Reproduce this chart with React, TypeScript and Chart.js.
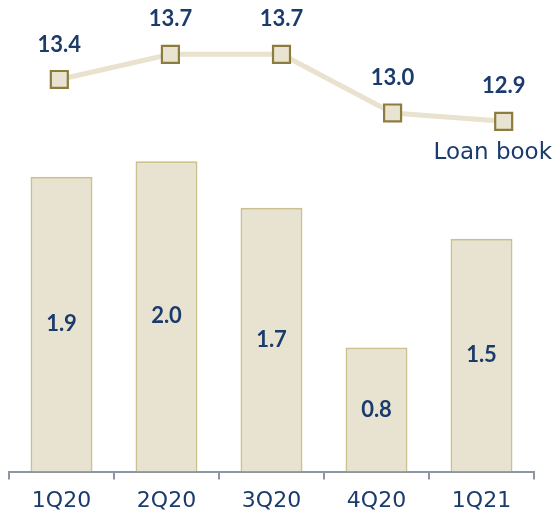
import React, { useEffect, useRef } from "react";
import { Chart, registerables } from "chart.js";

Chart.register(...registerables);

const categories = ["1Q20", "2Q20", "3Q20", "4Q20", "1Q21"];
const barValues = [1.9, 2.0, 1.7, 0.8, 1.5];
const loanBook = [13.4, 13.7, 13.7, 13.0, 12.9];
const lineLabel = "Loan book";

const NAVY = "#1A3B6C";

const labelPlugin = {
  id: "valueLabels",
  afterDatasetsDraw(chart: any) {
    const ctx = chart.ctx;
    ctx.save();
    ctx.fillStyle = NAVY;
    ctx.textAlign = "center";
    ctx.textBaseline = "middle";
    ctx.font = "bold 22px Lato";
    const barMeta = chart.getDatasetMeta(0);
    barMeta.data.forEach((el: any, i: number) => {
      const y = (el.y + el.base) / 2;
      ctx.fillText(barValues[i].toFixed(1), el.x, y);
    });
    const lineMeta = chart.getDatasetMeta(1);
    lineMeta.data.forEach((el: any, i: number) => {
      ctx.fillText(loanBook[i].toFixed(1), el.x, el.y - 35);
    });
    const last = lineMeta.data[lineMeta.data.length - 1];
    if (last) {
      ctx.font = "23px 'DejaVu Sans'";
      ctx.textAlign = "right";
      ctx.fillText(lineLabel, chart.width - 4, last.y + 32);
    }
    ctx.restore();
  },
};

export default function App() {
  const ref = useRef<HTMLCanvasElement | null>(null);
  useEffect(() => {
    if (!ref.current) return;
    const chart = new Chart(ref.current, {
      type: "bar",
      data: {
        labels: categories,
        datasets: [
          {
            type: "bar",
            data: barValues,
            xAxisID: "x",
            yAxisID: "y",
            backgroundColor: "#E8E3D1",
            borderColor: "#CBC08F",
            borderWidth: 2,
            borderSkipped: "bottom",
            barPercentage: 0.59,
            categoryPercentage: 1,
            grouped: false,
            order: 2,
          } as any,
          {
            type: "line",
            data: loanBook.map((v, i) => ({ x: i, y: v })),
            xAxisID: "x2",
            yAxisID: "y2",
            borderColor: "#E8E2CF",
            borderWidth: 5,
            pointStyle: "rect",
            pointRadius: 12,
            pointBackgroundColor: "#E9E4D2",
            pointBorderColor: "#8C7D3F",
            pointBorderWidth: 2.2,
            tension: 0,
            clip: false,
            order: 1,
          } as any,
        ],
      },
      options: {
        responsive: false,
        animation: false,
        layout: { autoPadding: false, padding: { left: 9, right: 22, top: 0, bottom: -6 } },
        plugins: { legend: { display: false }, tooltip: { enabled: false } },
        scales: {
          x: {
            type: "category",
            offset: true,
            grid: {
              display: true,
              offset: true,
              drawOnChartArea: false,
              drawTicks: true,
              tickLength: 8,
              color: "#8E95A5",
              lineWidth: 2,
            },
            border: { display: true, color: "#8E95A5", width: 2 },
            ticks: {
              color: NAVY,
              font: { family: "'DejaVu Sans'", size: 22 },
              padding: 8,
              maxRotation: 0,
              autoSkip: false,
            },
          },
          x2: {
            type: "linear",
            display: false,
            offset: false,
            grid: { offset: false },
            min: -0.453,
            max: 4.273,
          },
          y: {
            display: false,
            min: 0,
            max: 3.038,
          },
          y2: {
            display: false,
            min: 8.718,
            max: 14.349,
          },
        },
      },
      plugins: [labelPlugin],
    });
    return () => chart.destroy();
  }, []);
  return (
    <div style={{ position: "fixed", left: 0, top: 0, width: 556, height: 516, background: "#fff" }}>
      <canvas ref={ref} width={556} height={516} style={{ width: 556, height: 516, display: "block" }} />
    </div>
  );
}
